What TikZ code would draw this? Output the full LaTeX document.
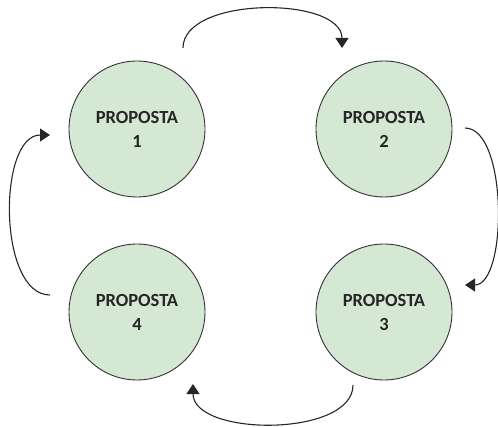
\documentclass[tikz,border=0pt]{standalone}
\usepackage{fontspec}
\setmainfont{Carlito}
\usepackage{xcolor}
\usetikzlibrary{arrows.meta,positioning,calc}
\definecolor{propgreen}{HTML}{D5E8D4}
\definecolor{propline}{HTML}{333333}

\begin{document}
\begin{tikzpicture}[x=1pt,y=1pt,
    proposta/.style={circle,draw=propline,fill=propgreen,line width=0.9pt,
        minimum size=136pt,inner sep=0pt,align=center,
        font=\fontsize{18.5}{24}\selectfont\bfseries,text=black!85},
    cycle/.style={-{Triangle[width=13pt,length=10pt]},line width=1.1pt,draw=black!85,looseness=0.84}]
            \useasboundingbox (0,0) rectangle (498,426);
            % draw the four proposals
            \foreach \n/\x/\y in {1/137/297, 2/384/297, 3/384/114, 4/137/114}
            {
                \node[proposta] (p\n) at (\x,\y) {PROPOSTA\\\n};
            }
            % end points of the arrows round the circles
            \coordinate (s12) at ($(p1)+(46,81)$);
            \coordinate (e12) at ($(p2)+(-42,81)$);
            \coordinate (s23) at ($(p2)+(81,1)$);
            \coordinate (e23) at ($(p3)+(81,27)$);
            \coordinate (s34) at ($(p3)+(-31,-73)$);
            \coordinate (e34) at ($(p4)+(56,-72)$);
            \coordinate (s41) at ($(p4)+(-87,17)$);
            \coordinate (e41) at ($(p1)+(-87,-6)$);
            % draw arrows from one proposal to the next
            \draw[cycle] (s12) to[out=90,in=90] (e12);
            \draw[cycle,looseness=0.7] (s23) to[out=0,in=0] (e23);
            \draw[cycle] (s34) to[out=-90,in=-90] (e34);
            \draw[cycle] (s41) to[out=180,in=180] (e41);
        \end{tikzpicture}
\end{document}
